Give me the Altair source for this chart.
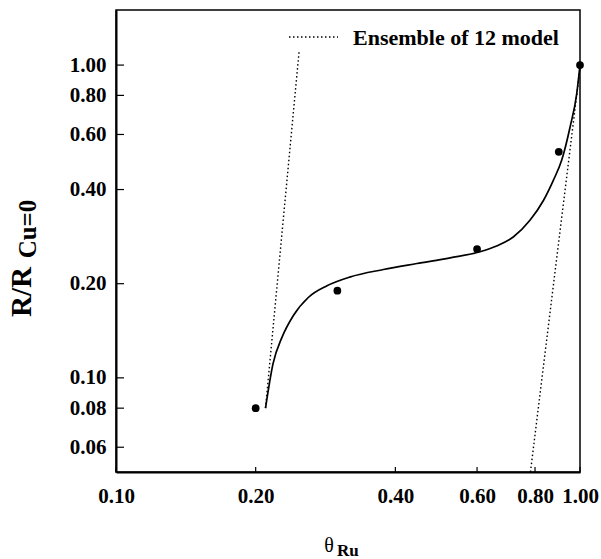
import altair as alt
import pandas as pd

# ---- data ----
points_x = [0.20, 0.30, 0.60, 0.90, 1.00]
points_y = [0.080, 0.190, 0.258, 0.528, 1.00]

curve_x = [0.210, 0.218, 0.228, 0.241, 0.260, 0.285, 0.319, 0.377, 0.445, 0.525,
           0.609, 0.661, 0.718, 0.780, 0.834, 0.876, 0.913, 0.952, 0.984, 1.000]
curve_y = [0.080, 0.111, 0.135, 0.158, 0.181, 0.197, 0.210, 0.222, 0.232, 0.242,
           0.253, 0.264, 0.282, 0.319, 0.369, 0.428, 0.496, 0.634, 0.811, 1.000]

ens1_x = [0.210, 0.248]
ens1_y = [0.080, 1.10]
ens2_x = [0.782, 1.000]
ens2_y = [0.050, 0.975]

x_ticks = [0.10, 0.20, 0.40, 0.60, 0.80, 1.00]
y_ticks = [0.06, 0.08, 0.10, 0.20, 0.40, 0.60, 0.80, 1.00]

legend_label = "Ensemble of 12 model"
y_title_main = "R/R"
y_title_sub = "Cu=0"
x_title_main = "θ"
x_title_sub = "Ru"

FONT = "Liberation Serif"
W, H = 464, 462

pts = pd.DataFrame({"x": points_x, "y": points_y})
crv = pd.DataFrame({"x": curve_x, "y": curve_y, "o": range(len(curve_x))})
ens = pd.DataFrame({
    "x": ens1_x + ens2_x,
    "y": ens1_y + ens2_y,
    "seg": ["a"] * len(ens1_x) + ["b"] * len(ens2_x),
})
xt = pd.DataFrame({"v": x_ticks})
yt = pd.DataFrame({"v": y_ticks})

xscale = alt.Scale(type="log", domain=[0.1, 1.0], nice=False)
yscale = alt.Scale(type="log", domain=[0.05, 1.5], nice=False)

xaxis = alt.Axis(values=x_ticks, format=".2f", title=None, grid=False, ticks=False,
                 labelFont=FONT, labelFontWeight="bold", labelFontSize=21,
                 labelColor="black", labelPadding=13, domainColor="black",
                 domainWidth=2, labelFlush=False)
yaxis = alt.Axis(values=y_ticks, format=".2f", title=None, grid=False, ticks=False,
                 labelFont=FONT, labelFontWeight="bold", labelFontSize=21,
                 labelColor="black", labelPadding=10, domainColor="black",
                 domainWidth=2)

X = alt.X("x:Q", scale=xscale, axis=xaxis)
Y = alt.Y("y:Q", scale=yscale, axis=yaxis)

curve = alt.Chart(crv).mark_line(color="black", strokeWidth=1.7, interpolate="monotone").encode(
    x=X, y=Y, order="o:Q")

dotted = alt.Chart(ens).mark_line(color="black", strokeWidth=1.4, strokeDash=[1.5, 2.5]).encode(
    x=alt.X("x:Q", scale=xscale), y=alt.Y("y:Q", scale=yscale), detail="seg:N")

points = alt.Chart(pts).mark_point(filled=True, color="black", opacity=1, size=60, shape="circle").encode(
    x=alt.X("x:Q", scale=xscale), y=alt.Y("y:Q", scale=yscale))

ytick_marks = alt.Chart(yt).mark_rule(color="black", strokeWidth=1.2).encode(
    y=alt.Y("v:Q", scale=yscale), x=alt.value(0), x2=alt.value(8))
xtick_marks = alt.Chart(xt).mark_rule(color="black", strokeWidth=1.2).encode(
    x=alt.X("v:Q", scale=xscale), y=alt.value(H), y2=alt.value(H - 5))

one = alt.Data(values=[{}])
leg_line = alt.Chart(one).mark_rule(color="black", strokeWidth=1.4, strokeDash=[1.5, 2.5]).encode(
    x=alt.value(173), x2=alt.value(222), y=alt.value(27))
leg_text = alt.Chart(one).mark_text(align="left", baseline="middle", font=FONT,
                                    fontWeight="bold", fontSize=22, color="black").encode(
    x=alt.value(237), y=alt.value(28), text=alt.value(legend_label))

yt_main = alt.Chart(one).mark_text(angle=270, align="center", baseline="middle", font=FONT,
                                   fontWeight="bold", fontSize=29, color="black").encode(
    x=alt.value(-94), y=alt.value(282), text=alt.value(y_title_main))
yt_sub = alt.Chart(one).mark_text(angle=270, align="center", baseline="middle", font=FONT,
                                  fontWeight="bold", fontSize=25, color="black").encode(
    x=alt.value(-88), y=alt.value(219), text=alt.value(y_title_sub))

xt_main = alt.Chart(one).mark_text(align="center", baseline="alphabetic", font=FONT,
                                   fontSize=20, color="black").encode(
    x=alt.value(213), y=alt.value(542), text=alt.value(x_title_main))
xt_sub = alt.Chart(one).mark_text(align="left", baseline="alphabetic", font=FONT,
                                  fontWeight="bold", fontSize=17, color="black").encode(
    x=alt.value(221), y=alt.value(546), text=alt.value(x_title_sub))

chart = alt.layer(
    curve, dotted, points, ytick_marks, xtick_marks, leg_line, leg_text,
    yt_main, yt_sub, xt_main, xt_sub
).properties(
    width=W, height=H,
    autosize=alt.AutoSizeParams(type="none"),
    padding={"left": 116, "top": 10, "right": 21, "bottom": 87},
    background="white",
).configure_view(
    stroke="black", strokeWidth=1.5
)

chart.save("out.html", embed_options={"renderer": "svg", "actions": False})
